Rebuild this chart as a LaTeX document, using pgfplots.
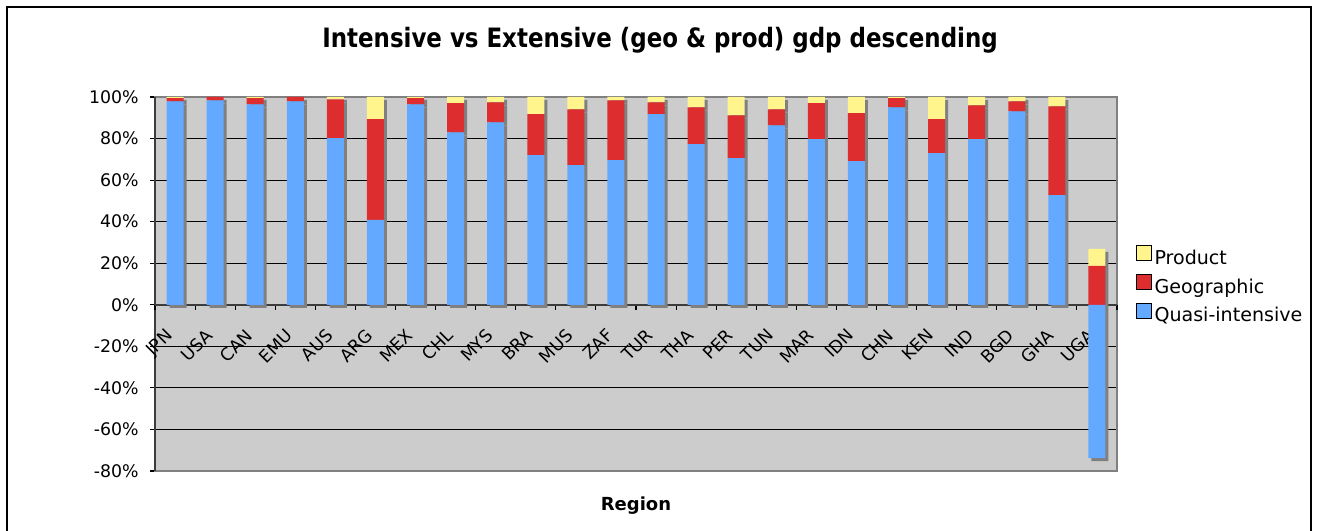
\documentclass[border=0pt]{standalone}
\usepackage{pgfplots}
\pgfplotsset{compat=1.18}
\usepackage{pgfplotstable}
\usepackage{fontspec}
\setmainfont{DejaVu Sans}
\newfontfamily\titlefont{DejaVu Sans}[FakeStretch=0.86]

\definecolor{qblue}{RGB}{99,169,255}
\definecolor{gred}{RGB}{221,45,46}
\definecolor{pyel}{RGB}{255,245,140}
\definecolor{bggray}{RGB}{204,204,204}
\definecolor{shgray}{RGB}{128,128,128}
\definecolor{frgray}{RGB}{128,128,128}
\definecolor{axgray}{RGB}{60,60,60}

% Q = quasi-intensive, G = geographic, P = product (percent)
\pgfplotstableread{
x  lab  Q     G     P
0  JPN  97.9  1.6   0.5
1  USA  98.4  1.6   0.0
2  CAN  96.5  3.0   0.5
3  EMU  97.9  2.1   0.0
4  AUS  80.2  18.7  1.1
5  ARG  40.8  48.5  10.7
6  MEX  96.5  3.0   0.5
7  CHL  83.0  14.0  3.0
8  MYS  87.8  9.6   2.6
9  BRA  72.0  19.7  8.3
10 MUS  67.2  26.9  5.9
11 ZAF  69.6  28.8  1.6
12 TUR  91.7  5.7   2.6
13 THA  77.3  17.7  5.0
14 PER  70.6  20.6  8.8
15 TUN  86.4  7.7   5.9
16 MAR  79.7  17.3  3.0
17 IDN  69.1  23.1  7.8
18 CHN  95.0  4.4   0.6
19 KEN  73.0  16.3  10.7
20 IND  79.7  16.3  4.0
21 BGD  93.1  4.8   2.1
22 GHA  52.8  42.7  4.5
23 UGA  -73.8 18.7  8.2
}\data

\pgfplotsset{
  base/.style={scale only axis, width=721.5pt, height=280.5pt,
    xmin=-0.5, xmax=23.5, ymin=-80, ymax=100, anchor=south west, clip=false},
  stk/.style={base, hide axis, ybar stacked, bar width=12.75pt},
  neg/.style={base, hide axis, ybar, bar width=12.75pt},
}

\begin{document}
\begin{tikzpicture}
\useasboundingbox (0pt,0pt) rectangle (990pt,398.25pt);
\fill[white] (0pt,0pt) rectangle (990pt,398.25pt);
\draw[black, line width=1.3pt] (5.25pt,-5pt) -- (5.25pt,393pt) -- (983.25pt,393pt) -- (983.25pt,-5pt);

% background, grid, y axis, title, legend
\begin{axis}[base, at={(116.25pt,45pt)},
  axis background/.style={fill=bggray},
  axis line style={draw=frgray, line width=1.2pt},
  xtick=\empty,
  ytick={-80,-60,-40,-20,0,20,40,60,80,100},
  yticklabels={-80\%,-60\%,-40\%,-20\%,0\%,20\%,40\%,60\%,80\%,100\%},
  ytick pos=left, ytick align=outside, major tick length=3.75pt,
  major tick style={black, line width=0.8pt},
  ymajorgrids, major grid style={black, line width=0.8pt},
  yticklabel style={font=\fontsize{13}{15}\selectfont, xshift=-5pt},
  title={Intensive vs Extensive (geo \& prod) gdp descending},
  title style={at={(axis description cs:0.525,1.1097)}, anchor=base,
    font=\titlefont\bfseries\fontsize{20}{23}\selectfont},
  xlabel={Region},
  xlabel style={at={(axis description cs:0.5,0)}, anchor=base, yshift=-30pt,
    font=\bfseries\fontsize{13.5}{16}\selectfont},
  legend style={at={(1.0198,0.604)}, anchor=north west, draw=none, fill=none,
    inner sep=0pt, font=\fontsize{14.3}{16}\selectfont, row sep=4pt},
  legend cell align=left,
  legend image code/.code={\fill[#1] (0pt,-2pt) rectangle (11.25pt,9.25pt);},
]
\addlegendimage{fill=pyel}
\addlegendentry{Product}
\addlegendimage{fill=gred}
\addlegendentry{Geographic}
\addlegendimage{fill=qblue}
\addlegendentry{Quasi-intensive}
\draw[axgray, line width=1.2pt] (rel axis cs:0,0) -- (rel axis cs:0,1);
\end{axis}

% zero line with category ticks and labels
\begin{axis}[scale only axis, width=721.5pt, height=155.833pt, at={(116.25pt,169.667pt)},
  anchor=south west, xmin=-0.5, xmax=23.5, ymin=0, ymax=100,
  axis x line*=bottom, axis y line=none,
  x axis line style={draw=axgray, line width=1.2pt},
  xtick={0,...,23},
  xticklabels={JPN,USA,CAN,EMU,AUS,ARG,MEX,CHL,MYS,BRA,MUS,ZAF,TUR,THA,PER,TUN,MAR,IDN,CHN,KEN,IND,BGD,GHA,UGA},
  major tick length=0pt, minor tick length=3.75pt,
  minor xtick={-0.5,0.5,...,23.5}, xtick align=outside,
  minor x tick style={black, line width=0.8pt},
  xticklabel style={font=\fontsize{13}{15}\selectfont, inner sep=0pt,
    xshift=-8pt, yshift=-17pt, rotate=45, anchor=north east},
]
\end{axis}

% shadows
\begin{axis}[stk, at={(118.5pt,42.75pt)}]
\addplot[fill=shgray, draw=none] table[x=x, y expr={max(\thisrow{Q},0)}] {\data};
\addplot[fill=shgray, draw=none] table[x=x, y=G] {\data};
\addplot[fill=shgray, draw=none] table[x=x, y=P] {\data};
\end{axis}
\begin{axis}[neg, at={(118.5pt,42.75pt)}]
\addplot[fill=shgray, draw=none] table[x=x, y expr={min(\thisrow{Q},0)}] {\data};
\end{axis}

% bars
\begin{axis}[stk, at={(116.25pt,45pt)}]
\addplot[fill=qblue, draw=none] table[x=x, y expr={max(\thisrow{Q},0)}] {\data};
\addplot[fill=gred, draw=none] table[x=x, y=G] {\data};
\addplot[fill=pyel, draw=none] table[x=x, y=P] {\data};
\end{axis}
\begin{axis}[neg, at={(116.25pt,45pt)}]
\addplot[fill=qblue, draw=none] table[x=x, y expr={min(\thisrow{Q},0)}] {\data};
\end{axis}
\end{tikzpicture}
\end{document}
